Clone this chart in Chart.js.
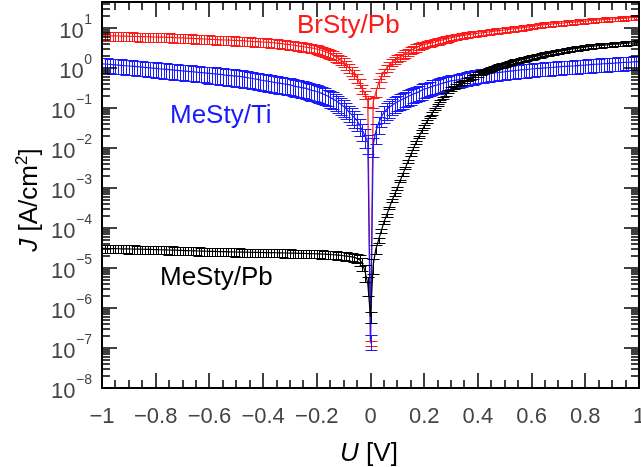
<!DOCTYPE html>
<html>
<head>
<meta charset="utf-8">
<title>J-U Kennlinien</title>
<script src="https://cdn.jsdelivr.net/npm/chart.js@4.4.0/dist/chart.umd.min.js"></script>
<style>
    html, body { margin: 0; padding: 0; background: #fff; }
    #wrap { width: 641px; height: 467px; position: relative; }
</style>
</head>
<body>
<div id="wrap"><canvas id="jvChart"></canvas></div>
<script>
// ----------------------------
// Daten: Spannung U [V]
// ----------------------------
const voltage = [
    -1.00, -0.99, -0.98, -0.97, -0.96, -0.95, -0.94, -0.93, -0.92, -0.91,
    -0.90, -0.89, -0.88, -0.87, -0.86, -0.85, -0.84, -0.83, -0.82, -0.81,
    -0.80, -0.79, -0.78, -0.77, -0.76, -0.75, -0.74, -0.73, -0.72, -0.71,
    -0.70, -0.69, -0.68, -0.67, -0.66, -0.65, -0.64, -0.63, -0.62, -0.61,
    -0.60, -0.59, -0.58, -0.57, -0.56, -0.55, -0.54, -0.53, -0.52, -0.51,
    -0.50, -0.49, -0.48, -0.47, -0.46, -0.45, -0.44, -0.43, -0.42, -0.41,
    -0.40, -0.39, -0.38, -0.37, -0.36, -0.35, -0.34, -0.33, -0.32, -0.31,
    -0.30, -0.29, -0.28, -0.27, -0.26, -0.25, -0.24, -0.23, -0.22, -0.21,
    -0.20, -0.19, -0.18, -0.17, -0.16, -0.15, -0.14, -0.13, -0.12, -0.11,
    -0.10, -0.09, -0.08, -0.07, -0.06, -0.05, -0.04, -0.03, -0.02, -0.01,
    0.00, 0.01, 0.02, 0.03, 0.04, 0.05, 0.06, 0.07, 0.08, 0.09,
    0.10, 0.11, 0.12, 0.13, 0.14, 0.15, 0.16, 0.17, 0.18, 0.19,
    0.20, 0.21, 0.22, 0.23, 0.24, 0.25, 0.26, 0.27, 0.28, 0.29,
    0.30, 0.31, 0.32, 0.33, 0.34, 0.35, 0.36, 0.37, 0.38, 0.39,
    0.40, 0.41, 0.42, 0.43, 0.44, 0.45, 0.46, 0.47, 0.48, 0.49,
    0.50, 0.51, 0.52, 0.53, 0.54, 0.55, 0.56, 0.57, 0.58, 0.59,
    0.60, 0.61, 0.62, 0.63, 0.64, 0.65, 0.66, 0.67, 0.68, 0.69,
    0.70, 0.71, 0.72, 0.73, 0.74, 0.75, 0.76, 0.77, 0.78, 0.79,
    0.80, 0.81, 0.82, 0.83, 0.84, 0.85, 0.86, 0.87, 0.88, 0.89,
    0.90, 0.91, 0.92, 0.93, 0.94, 0.95, 0.96, 0.97, 0.98, 0.99,
    1.00
];

// Stromdichte J [A/cm²]
const brStyPb = [
    6.5, 6.48, 6.45, 6.42, 6.4, 6.38, 6.35, 6.32, 6.3, 6.28,
    6.25, 6.22, 6.2, 6.18, 6.15, 6.12, 6.1, 6.08, 6.05, 6.02,
    6.0, 5.98, 5.95, 5.92, 5.9, 5.88, 5.85, 5.8, 5.75, 5.72,
    5.7, 5.65, 5.6, 5.55, 5.5, 5.48, 5.45, 5.4, 5.35, 5.3,
    5.25, 5.22, 5.2, 5.15, 5.1, 5.08, 5.05, 5.02, 5.0, 4.95,
    4.9, 4.88, 4.85, 4.8, 4.75, 4.7, 4.65, 4.62, 4.6, 4.55,
    4.5, 4.45, 4.4, 4.35, 4.3, 4.22, 4.15, 4.08, 4.0, 3.92,
    3.85, 3.78, 3.7, 3.6, 3.5, 3.42, 3.35, 3.28, 3.2, 3.1,
    3.0, 2.88, 2.75, 2.6, 2.45, 2.28, 2.1, 1.92, 1.75, 1.58,
    1.4, 1.2, 1.0, 0.85, 0.72, 0.58, 0.42, 0.3, 0.22, 0.15,
    1.3e-7, 0.14, 0.25, 0.42, 0.6, 0.8, 1.0, 1.2, 1.4, 1.6,
    1.75, 1.9, 2.1, 2.3, 2.5, 2.75, 3.0, 3.25, 3.5, 3.7,
    3.9, 4.05, 4.2, 4.35, 4.5, 4.7, 4.9, 5.1, 5.3, 5.5,
    5.7, 5.9, 6.1, 6.3, 6.5, 6.65, 6.8, 6.95, 7.1, 7.25,
    7.4, 7.55, 7.7, 7.85, 8.0, 8.2, 8.4, 8.55, 8.7, 8.85,
    9.0, 9.2, 9.4, 9.55, 9.7, 9.9, 10.1, 10.3, 10.5, 10.75,
    11.0, 11.25, 11.5, 11.8, 12.1, 12.25, 12.4, 12.6, 12.8, 13.0,
    13.2, 13.35, 13.5, 13.7, 13.9, 14.05, 14.2, 14.4, 14.6, 14.8,
    15.0, 15.25, 15.5, 15.65, 15.8, 16.0, 16.2, 16.35, 16.5, 16.7,
    16.9, 17.05, 17.2, 17.4, 17.6, 17.8, 18.0, 18.2, 18.4, 18.6,
    18.8
];
const meStyTi = [
    1.28, 1.265, 1.25, 1.235, 1.22, 1.205, 1.19, 1.175, 1.16, 1.145,
    1.13, 1.115, 1.1, 1.085, 1.07, 1.055, 1.04, 1.025, 1.01, 0.995,
    0.98, 0.965, 0.95, 0.94, 0.93, 0.915, 0.9, 0.89, 0.88, 0.865,
    0.85, 0.84, 0.83, 0.82, 0.81, 0.795, 0.78, 0.77, 0.76, 0.75,
    0.74, 0.73, 0.72, 0.71, 0.7, 0.685, 0.67, 0.66, 0.65, 0.64,
    0.63, 0.62, 0.61, 0.595, 0.58, 0.565, 0.55, 0.535, 0.52, 0.505,
    0.49, 0.48, 0.47, 0.455, 0.44, 0.43, 0.42, 0.41, 0.4, 0.39,
    0.38, 0.365, 0.35, 0.34, 0.33, 0.32, 0.31, 0.295, 0.28, 0.27,
    0.26, 0.245, 0.23, 0.215, 0.2, 0.185, 0.17, 0.155, 0.14, 0.125,
    0.11, 0.095, 0.08, 0.068, 0.058, 0.049, 0.037, 0.027, 0.02, 0.014,
    1.5e-7, 0.012, 0.026, 0.042, 0.06, 0.078, 0.092, 0.105, 0.118, 0.13,
    0.142, 0.155, 0.168, 0.18, 0.195, 0.21, 0.225, 0.24, 0.255, 0.28,
    0.3, 0.31, 0.33, 0.35, 0.37, 0.38, 0.4, 0.42, 0.44, 0.46,
    0.48, 0.49, 0.5, 0.52, 0.54, 0.56, 0.58, 0.6, 0.62, 0.64,
    0.66, 0.675, 0.69, 0.705, 0.72, 0.735, 0.75, 0.765, 0.78, 0.795,
    0.81, 0.825, 0.84, 0.855, 0.87, 0.885, 0.9, 0.91, 0.92, 0.935,
    0.95, 0.965, 0.98, 0.99, 1.0, 1.01, 1.02, 1.035, 1.05, 1.06,
    1.07, 1.085, 1.1, 1.11, 1.12, 1.13, 1.14, 1.155, 1.17, 1.18,
    1.19, 1.205, 1.22, 1.235, 1.25, 1.26, 1.27, 1.285, 1.3, 1.31,
    1.32, 1.335, 1.35, 1.365, 1.38, 1.39, 1.4, 1.415, 1.43, 1.445,
    1.46
];
const meStyPb = [
    3.1e-5, 3.09e-5, 3.08e-5, 3.07e-5, 3.06e-5, 3.05e-5, 3.04e-5, 3.03e-5, 3.02e-5, 3.01e-5,
    3.0e-5, 2.99e-5, 2.98e-5, 2.97e-5, 2.96e-5, 2.95e-5, 2.94e-5, 2.93e-5, 2.92e-5, 2.91e-5,
    2.9e-5, 2.88e-5, 2.87e-5, 2.86e-5, 2.85e-5, 2.83e-5, 2.82e-5, 2.8e-5, 2.79e-5, 2.77e-5,
    2.76e-5, 2.74e-5, 2.73e-5, 2.71e-5, 2.7e-5, 2.68e-5, 2.67e-5, 2.65e-5, 2.64e-5, 2.63e-5,
    2.62e-5, 2.61e-5, 2.6e-5, 2.59e-5, 2.58e-5, 2.57e-5, 2.56e-5, 2.55e-5, 2.54e-5, 2.53e-5,
    2.52e-5, 2.51e-5, 2.5e-5, 2.5e-5, 2.49e-5, 2.48e-5, 2.47e-5, 2.47e-5, 2.46e-5, 2.45e-5,
    2.45e-5, 2.44e-5, 2.43e-5, 2.42e-5, 2.42e-5, 2.41e-5, 2.4e-5, 2.39e-5, 2.38e-5, 2.38e-5,
    2.37e-5, 2.36e-5, 2.35e-5, 2.34e-5, 2.33e-5, 2.32e-5, 2.31e-5, 2.3e-5, 2.29e-5, 2.28e-5,
    2.27e-5, 2.26e-5, 2.24e-5, 2.22e-5, 2.2e-5, 2.18e-5, 2.15e-5, 2.13e-5, 2.1e-5, 2.07e-5,
    2.03e-5, 1.99e-5, 1.95e-5, 1.9e-5, 1.85e-5, 1.75e-5, 1.6e-5, 1.3e-5, 8e-6, 4e-6,
    6e-7, 1.2e-5, 3e-5, 5e-5, 8.5e-5, 1.4e-4, 2.1e-4, 3.2e-4, 4.8e-4, 7e-4,
    1.0e-3, 1.5e-3, 2.2e-3, 3.2e-3, 4.7e-3, 6.8e-3, 9.8e-3, 0.014, 0.019, 0.026,
    0.035, 0.046, 0.06, 0.075, 0.095, 0.12, 0.15, 0.18, 0.22, 0.26,
    0.3, 0.33, 0.36, 0.4, 0.43, 0.47, 0.52, 0.56, 0.6, 0.65,
    0.7, 0.75, 0.8, 0.86, 0.92, 0.97, 1.02, 1.07, 1.12, 1.17,
    1.22, 1.28, 1.35, 1.41, 1.48, 1.54, 1.6, 1.66, 1.72, 1.78,
    1.85, 1.92, 2.0, 2.07, 2.15, 2.22, 2.3, 2.37, 2.45, 2.52,
    2.6, 2.67, 2.75, 2.82, 2.9, 2.97, 3.05, 3.12, 3.2, 3.27,
    3.35, 3.42, 3.5, 3.55, 3.6, 3.65, 3.7, 3.75, 3.8, 3.85,
    3.9, 3.95, 4.0, 4.05, 4.1, 4.15, 4.2, 4.25, 4.3, 4.35,
    4.4
];

// relative Fehler (Anteil von J)
const brStyPbErr = [
    0.25, 0.25, 0.25, 0.25, 0.25, 0.25, 0.25, 0.25, 0.25, 0.25,
    0.25, 0.25, 0.25, 0.25, 0.25, 0.25, 0.25, 0.25, 0.25, 0.25,
    0.25, 0.25, 0.25, 0.25, 0.25, 0.25, 0.25, 0.25, 0.25, 0.25,
    0.25, 0.25, 0.25, 0.25, 0.25, 0.25, 0.25, 0.25, 0.25, 0.25,
    0.25, 0.25, 0.25, 0.25, 0.25, 0.25, 0.25, 0.25, 0.25, 0.25,
    0.25, 0.25, 0.25, 0.25, 0.25, 0.25, 0.25, 0.25, 0.25, 0.25,
    0.25, 0.25, 0.25, 0.25, 0.25, 0.25, 0.25, 0.25, 0.25, 0.25,
    0.25, 0.25, 0.25, 0.25, 0.25, 0.25, 0.25, 0.25, 0.25, 0.25,
    0.25, 0.25, 0.25, 0.25, 0.25, 0.25, 0.25, 0.25, 0.25, 0.25,
    0.25, 0.25, 0.25, 0.25, 0.25, 0.25, 0.25, 0.25, 0.25, 0.30,
    0.15, 0.30, 0.25, 0.25, 0.25, 0.22, 0.22, 0.20, 0.20, 0.20,
    0.20, 0.20, 0.20, 0.20, 0.20, 0.20, 0.20, 0.20, 0.20, 0.20,
    0.18, 0.18, 0.18, 0.18, 0.18, 0.18, 0.18, 0.18, 0.18, 0.18,
    0.16, 0.16, 0.16, 0.16, 0.16, 0.16, 0.16, 0.16, 0.16, 0.16,
    0.15, 0.15, 0.15, 0.15, 0.15, 0.15, 0.15, 0.15, 0.15, 0.15,
    0.14, 0.14, 0.14, 0.14, 0.14, 0.14, 0.14, 0.14, 0.14, 0.14,
    0.13, 0.13, 0.13, 0.13, 0.13, 0.13, 0.13, 0.13, 0.13, 0.13,
    0.13, 0.13, 0.13, 0.13, 0.13, 0.13, 0.13, 0.13, 0.13, 0.13,
    0.12, 0.12, 0.12, 0.12, 0.12, 0.12, 0.12, 0.12, 0.12, 0.12,
    0.12, 0.12, 0.12, 0.12, 0.12, 0.12, 0.12, 0.12, 0.12, 0.12,
    0.12
];
const meStyTiErr = [
    0.40, 0.40, 0.40, 0.40, 0.40, 0.40, 0.40, 0.40, 0.40, 0.40,
    0.40, 0.40, 0.40, 0.40, 0.40, 0.40, 0.40, 0.40, 0.40, 0.40,
    0.42, 0.42, 0.42, 0.42, 0.42, 0.42, 0.42, 0.42, 0.42, 0.42,
    0.42, 0.42, 0.42, 0.42, 0.42, 0.42, 0.42, 0.42, 0.42, 0.42,
    0.45, 0.45, 0.45, 0.45, 0.45, 0.45, 0.45, 0.45, 0.45, 0.45,
    0.45, 0.45, 0.45, 0.45, 0.45, 0.45, 0.45, 0.45, 0.45, 0.45,
    0.45, 0.45, 0.45, 0.45, 0.45, 0.45, 0.45, 0.45, 0.45, 0.45,
    0.45, 0.45, 0.45, 0.45, 0.45, 0.45, 0.45, 0.45, 0.45, 0.45,
    0.45, 0.45, 0.45, 0.45, 0.45, 0.45, 0.45, 0.45, 0.45, 0.45,
    0.45, 0.45, 0.45, 0.45, 0.45, 0.45, 0.45, 0.45, 0.50, 0.50,
    0.40, 0.50, 0.50, 0.45, 0.45, 0.45, 0.45, 0.45, 0.42, 0.42,
    0.42, 0.42, 0.42, 0.42, 0.42, 0.42, 0.42, 0.42, 0.42, 0.42,
    0.40, 0.40, 0.40, 0.40, 0.40, 0.40, 0.40, 0.40, 0.40, 0.40,
    0.38, 0.38, 0.38, 0.38, 0.38, 0.38, 0.38, 0.38, 0.38, 0.38,
    0.37, 0.37, 0.37, 0.37, 0.37, 0.37, 0.37, 0.37, 0.37, 0.37,
    0.37, 0.37, 0.37, 0.37, 0.37, 0.37, 0.37, 0.37, 0.37, 0.37,
    0.37, 0.37, 0.37, 0.37, 0.37, 0.37, 0.37, 0.37, 0.37, 0.37,
    0.37, 0.37, 0.37, 0.37, 0.37, 0.37, 0.37, 0.37, 0.37, 0.37,
    0.37, 0.37, 0.37, 0.37, 0.37, 0.37, 0.37, 0.37, 0.37, 0.37,
    0.37, 0.37, 0.37, 0.37, 0.37, 0.37, 0.37, 0.37, 0.37, 0.37,
    0.37
];
const meStyPbErr = [
    0.23, 0.23, 0.23, 0.23, 0.23, 0.23, 0.23, 0.23, 0.23, 0.23,
    0.23, 0.23, 0.23, 0.23, 0.23, 0.23, 0.23, 0.23, 0.23, 0.23,
    0.23, 0.23, 0.23, 0.23, 0.23, 0.23, 0.23, 0.23, 0.23, 0.23,
    0.23, 0.23, 0.23, 0.23, 0.23, 0.23, 0.23, 0.23, 0.23, 0.23,
    0.23, 0.23, 0.23, 0.23, 0.23, 0.23, 0.23, 0.23, 0.23, 0.23,
    0.23, 0.23, 0.23, 0.23, 0.23, 0.23, 0.23, 0.23, 0.23, 0.23,
    0.23, 0.23, 0.23, 0.23, 0.23, 0.23, 0.23, 0.23, 0.23, 0.23,
    0.23, 0.23, 0.23, 0.23, 0.23, 0.23, 0.23, 0.23, 0.23, 0.23,
    0.23, 0.23, 0.23, 0.23, 0.23, 0.23, 0.23, 0.23, 0.23, 0.23,
    0.23, 0.23, 0.23, 0.23, 0.23, 0.25, 0.30, 0.35, 0.45, 0.50,
    0.30, 0.40, 0.25, 0.15, 0.10, 0.08, 0.08, 0.08, 0.08, 0.08,
    0.08, 0.08, 0.08, 0.08, 0.08, 0.08, 0.08, 0.08, 0.08, 0.08,
    0.08, 0.08, 0.08, 0.08, 0.08, 0.08, 0.08, 0.08, 0.08, 0.08,
    0.10, 0.10, 0.10, 0.10, 0.10, 0.10, 0.10, 0.10, 0.10, 0.10,
    0.12, 0.12, 0.12, 0.12, 0.12, 0.12, 0.12, 0.12, 0.12, 0.12,
    0.12, 0.12, 0.12, 0.12, 0.12, 0.12, 0.12, 0.12, 0.12, 0.12,
    0.12, 0.12, 0.12, 0.12, 0.12, 0.12, 0.12, 0.12, 0.12, 0.12,
    0.12, 0.12, 0.12, 0.12, 0.12, 0.12, 0.12, 0.12, 0.12, 0.12,
    0.12, 0.12, 0.12, 0.12, 0.12, 0.12, 0.12, 0.12, 0.12, 0.12,
    0.12, 0.12, 0.12, 0.12, 0.12, 0.12, 0.12, 0.12, 0.12, 0.12,
    0.12
];

// Achsen
const xTicks = [-1, -0.8, -0.6, -0.4, -0.2, 0, 0.2, 0.4, 0.6, 0.8, 1];
const xTickLabels = ["\u22121", "\u22120.8", "\u22120.6", "\u22120.4", "\u22120.2", "0", "0.2", "0.4", "0.6", "0.8", "1"];
const yTickExponents = [-8, -7, -6, -5, -4, -3, -2, -1, 0, 1];
const yMin = 1e-8;
const yMax = 45;

const seriesNames = ["BrSty/Pb", "MeSty/Ti", "MeSty/Pb"];
const seriesColors = ["#ff1a1a", "#1a1aff", "#000000"];

const FONT = '"Liberation Sans", Arial, Helvetica, sans-serif';
const TICK_GREY = "#444444";

const toPoints = (vals) => voltage.map((u, i) => ({x: u, y: vals[i]}));

// ----------------------------
// Fehlerbalken pro Datensatz
// ----------------------------
const errorBars = {
    id: "errorBars",
    afterDatasetDraw(chart, args) {
        const ds = chart.data.datasets[args.index];
        if (!ds.relErr) return;
        const ctx = chart.ctx;
        const ys = chart.scales.y;
        const area = chart.chartArea;
        const cap = 6;
        ctx.save();
        ctx.beginPath();
        ctx.rect(area.left, area.top, area.right - area.left, area.bottom - area.top);
        ctx.clip();
        ctx.strokeStyle = ds.borderColor;
        ctx.lineWidth = 1;
        ctx.beginPath();
        args.meta.data.forEach((pt, i) => {
            const v = ds.data[i].y;
            const e = v * ds.relErr[i];
            const x = Math.round(pt.x) + 0.5;
            const yTop = Math.round(ys.getPixelForValue(v + e)) + 0.5;
            const hasLow = v - e > 0;
            const yBot = hasLow ? Math.round(ys.getPixelForValue(v - e)) + 0.5 : area.bottom;
            ctx.moveTo(x, yTop);
            ctx.lineTo(x, yBot);
            ctx.moveTo(x - cap, yTop);
            ctx.lineTo(x + cap, yTop);
            if (hasLow) {
                ctx.moveTo(x - cap, yBot);
                ctx.lineTo(x + cap, yBot);
            }
        });
        ctx.stroke();
        ctx.restore();
    }
};

// ----------------------------
// Rahmen, Ticks nach innen, Beschriftung
// ----------------------------
const frameAndLabels = {
    id: "frameAndLabels",
    afterDraw(chart) {
        const ctx = chart.ctx;
        const {left, right, top, bottom} = chart.chartArea;
        const xs = chart.scales.x;
        const ys = chart.scales.y;

        ctx.save();
        ctx.strokeStyle = "#000";
        ctx.lineWidth = 2;
        ctx.strokeRect(left, top, right - left, bottom - top);

        ctx.lineWidth = 1.5;
        ctx.beginPath();
        const vTick = (px, len) => {
            ctx.moveTo(px, bottom);
            ctx.lineTo(px, bottom - len);
            ctx.moveTo(px, top);
            ctx.lineTo(px, top + len);
        };
        const hTick = (py, len) => {
            ctx.moveTo(left, py);
            ctx.lineTo(left + len, py);
            ctx.moveTo(right, py);
            ctx.lineTo(right - len, py);
        };
        xTicks.forEach((v, i) => {
            vTick(Math.round(xs.getPixelForValue(v)), 15);
            if (i < xTicks.length - 1) {
                const step = (xTicks[i + 1] - v) / 4;
                for (let k = 1; k < 4; k++) {
                    vTick(Math.round(xs.getPixelForValue(v + k * step)), 8);
                }
            }
        });
        yTickExponents.forEach((e) => {
            const base = Math.pow(10, e);
            hTick(Math.round(ys.getPixelForValue(base)), 15);
            for (let k = 2; k <= 9; k++) {
                if (k * base > yMax) break;
                hTick(Math.round(ys.getPixelForValue(k * base)), 8);
            }
        });
        ctx.stroke();

        // x-Tickbeschriftung
        ctx.fillStyle = TICK_GREY;
        ctx.font = "22px " + FONT;
        ctx.textAlign = "center";
        ctx.textBaseline = "alphabetic";
        xTicks.forEach((v, i) => {
            ctx.fillText(xTickLabels[i], xs.getPixelForValue(v), 423);
        });

        // y-Tickbeschriftung 10^n
        yTickExponents.forEach((e) => {
            const py = ys.getPixelForValue(Math.pow(10, e));
            const sup = e < 0 ? "\u2212" + (-e) : String(e);
            ctx.font = "14px " + FONT;
            const supW = ctx.measureText(sup).width;
            ctx.textAlign = "left";
            ctx.fillText(sup, 92 - supW, py - 4);
            ctx.font = "22px " + FONT;
            ctx.textAlign = "right";
            ctx.fillText("10", 92 - supW - 0.5, py + 10);
        });

        // Achsentitel x: U [V]
        ctx.fillStyle = "#000";
        ctx.textAlign = "left";
        ctx.font = "italic 26px " + FONT;
        const wU = ctx.measureText("U").width;
        ctx.font = "26px " + FONT;
        const wV = ctx.measureText(" [V]").width;
        const x0 = 369 - (wU + wV) / 2;
        ctx.font = "italic 26px " + FONT;
        ctx.fillText("U", x0, 461);
        ctx.font = "26px " + FONT;
        ctx.fillText(" [V]", x0 + wU, 461);

        // Achsentitel y: J [A/cm²]
        ctx.save();
        ctx.translate(37, 200);
        ctx.rotate(-Math.PI / 2);
        const parts = [
            {t: "J", f: "italic 26px " + FONT, dy: 0},
            {t: " [A/cm", f: "26px " + FONT, dy: 0},
            {t: "2", f: "17px " + FONT, dy: -10},
            {t: "]", f: "26px " + FONT, dy: 0}
        ];
        let total = 0;
        parts.forEach((p) => {
            ctx.font = p.f;
            p.w = ctx.measureText(p.t).width;
            total += p.w;
        });
        let px = -total / 2;
        parts.forEach((p) => {
            ctx.font = p.f;
            ctx.fillText(p.t, px, p.dy);
            px += p.w;
        });
        ctx.restore();

        // Kurvenbeschriftungen
        const labelPos = [[297, 33], [170, 123], [160, 285]];
        ctx.font = "26px " + FONT;
        seriesNames.forEach((name, i) => {
            ctx.fillStyle = seriesColors[i];
            ctx.fillText(name, labelPos[i][0], labelPos[i][1]);
        });
        ctx.restore();
    }
};

document.addEventListener("DOMContentLoaded", function () {
    const ctx = document.getElementById("jvChart");
    if (!ctx || typeof Chart === "undefined") return;

    const makeSet = (i, vals, errs, order) => ({
        label: seriesNames[i],
        data: toPoints(vals),
        relErr: errs,
        borderColor: seriesColors[i],
        backgroundColor: seriesColors[i],
        borderWidth: 1.2,
        pointRadius: 0,
        tension: 0,
        order: order
    });

    new Chart(ctx, {
        type: "line",
        data: {
            datasets: [
                makeSet(0, brStyPb, brStyPbErr, 3),
                makeSet(1, meStyTi, meStyTiErr, 2),
                makeSet(2, meStyPb, meStyPbErr, 1)
            ]
        },
        options: {
            responsive: true,
            maintainAspectRatio: false,
            animation: false,
            devicePixelRatio: 1,
            layout: {padding: {left: 102, right: 2, top: 2, bottom: 79}},
            scales: {
                x: {type: "linear", min: -1, max: 1, display: false},
                y: {type: "logarithmic", min: yMin, max: yMax, display: false}
            },
            plugins: {
                legend: {display: false},
                tooltip: {enabled: false}
            }
        },
        plugins: [errorBars, frameAndLabels]
    });
});
</script>
</body>
</html>
